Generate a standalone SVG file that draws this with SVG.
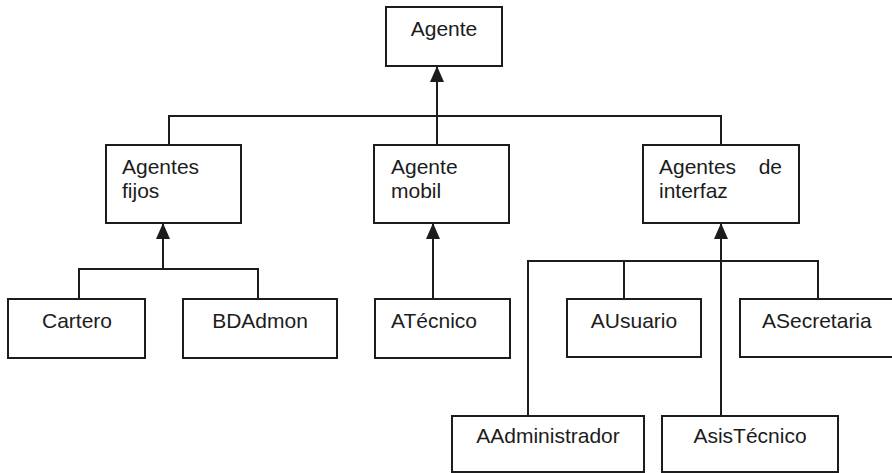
<svg xmlns="http://www.w3.org/2000/svg" width="892" height="473" viewBox="0 0 892 473">
<style>
.box{fill:#fff;stroke:#1c1c1c;stroke-width:2}
.ln{fill:none;stroke:#1c1c1c;stroke-width:2}
text{font-family:"Liberation Sans",Arial,sans-serif;font-size:21px;fill:#1c1c1c}
.c{text-anchor:middle}
</style>
<defs>
<marker id="tri" viewBox="0 0 16 14" refX="16" refY="7" markerWidth="16" markerHeight="14" markerUnits="userSpaceOnUse" orient="auto">
<path d="M0,0 L16,7 L0,14 Z" fill="#1c1c1c"/>
</marker>
</defs>
<rect width="892" height="473" fill="#fff"/>
<g id="connectors">
<path class="ln" d="M169,145 V116 H721 V145"/>
<path class="ln" d="M437,145 V66" marker-end="url(#tri)"/>
<path class="ln" d="M79,299 V269 H258 V299"/>
<path class="ln" d="M163,269 V223" marker-end="url(#tri)"/>
<path class="ln" d="M433,299 V223" marker-end="url(#tri)"/>
<path class="ln" d="M528,416 V261 H818 V299"/>
<path class="ln" d="M624,261 V299"/>
<path class="ln" d="M721,416 V223" marker-end="url(#tri)"/>
</g>
<g id="agente"><rect class="box" x="386" y="7" width="116" height="59"/><text class="c" x="444" y="36">Agente</text></g>
<g id="agentes-fijos"><rect class="box" x="106" y="145" width="135" height="78"/><text x="122" y="174">Agentes</text><text x="122" y="198">fijos</text></g>
<g id="agente-mobil"><rect class="box" x="374" y="145" width="135" height="78"/><text x="391" y="174">Agente</text><text x="391" y="198">mobil</text></g>
<g id="agentes-interfaz"><rect class="box" x="643" y="145" width="156" height="78"/><text x="659" y="174">Agentes</text><text x="782" y="174" text-anchor="end">de</text><text x="659" y="198">interfaz</text></g>
<g id="cartero"><rect class="box" x="8" y="299" width="137" height="59"/><text class="c" x="77" y="328">Cartero</text></g>
<g id="bdadmon"><rect class="box" x="183" y="299" width="154" height="59"/><text class="c" x="260" y="328">BDAdmon</text></g>
<g id="atecnico"><rect class="box" x="375" y="299" width="135" height="59"/><text x="391" y="328">ATécnico</text></g>
<g id="ausuario"><rect class="box" x="567" y="299" width="134" height="58"/><text class="c" x="634" y="328">AUsuario</text></g>
<g id="asecretaria"><rect class="box" x="740" y="299" width="156" height="58"/><text x="762" y="328">ASecretaria</text></g>
<g id="aadministrador"><rect class="box" x="452" y="416" width="192" height="56"/><text class="c" x="548" y="443">AAdministrador</text></g>
<g id="asistecnico"><rect class="box" x="662" y="416" width="176" height="56"/><text class="c" x="750" y="443">AsisTécnico</text></g>
</svg>
